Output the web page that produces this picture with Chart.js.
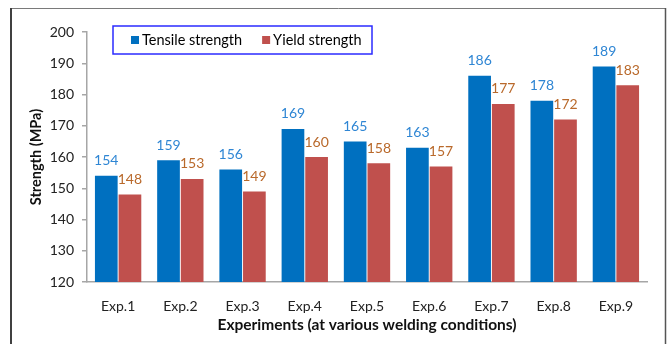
<!DOCTYPE html>
<html>
<head>
<meta charset="utf-8">
<title>Strength of welded joints</title>
<script src="https://cdn.jsdelivr.net/npm/chart.js@4.4.1/dist/chart.umd.min.js"></script>
<style>
    html, body { margin: 0; padding: 0; background: #ffffff; }
    #wrap { position: relative; width: 671px; height: 344px; }
</style>
</head>
<body>
<div id="wrap">
    <canvas id="myChart" width="671" height="344"></canvas>
</div>
<script>
const experiments = ['Exp.1', 'Exp.2', 'Exp.3', 'Exp.4', 'Exp.5', 'Exp.6', 'Exp.7', 'Exp.8', 'Exp.9'];
const tensileStrength = [154, 159, 156, 169, 165, 163, 186, 178, 189];
const yieldStrength = [148, 153, 149, 160, 158, 157, 177, 172, 183];
const yTicks = [120, 130, 140, 150, 160, 170, 180, 190, 200];

const fontName = 'Lato, "Open Sans", sans-serif';

// moldura em volta do grafico
const framePlugin = {
    id: 'frame',
    beforeDraw(chart) {
        const ctx = chart.ctx;
        ctx.save();
        ctx.strokeStyle = '#7a7a7a';
        ctx.lineWidth = 1;
        ctx.beginPath();
        ctx.moveTo(11, 8.5);
        ctx.lineTo(665.5, 8.5);
        ctx.stroke();
        ctx.strokeStyle = '#404040';
        ctx.lineWidth = 2;
        ctx.beginPath();
        ctx.moveTo(11, 8);
        ctx.lineTo(11, 344);
        ctx.stroke();
        ctx.strokeStyle = '#555555';
        ctx.lineWidth = 1.5;
        ctx.beginPath();
        ctx.moveTo(665.5, 8);
        ctx.lineTo(665.5, 344);
        ctx.stroke();
        ctx.restore();
    }
};

// legenda dentro da area do grafico, com caixa azul
const legendBoxPlugin = {
    id: 'legendBox',
    afterDraw(chart) {
        const ctx = chart.ctx;
        ctx.save();
        ctx.fillStyle = '#ffffff';
        ctx.fillRect(113, 26, 259, 28);
        ctx.strokeStyle = '#2b2bff';
        ctx.lineWidth = 1.5;
        ctx.strokeRect(113, 26, 259, 28);
        ctx.font = '14.5px ' + fontName;
        ctx.textBaseline = 'middle';
        let x = 131;
        chart.data.datasets.forEach(function(ds) {
            ctx.fillStyle = ds.backgroundColor;
            ctx.fillRect(x, 36, 8, 8);
            ctx.fillStyle = '#000000';
            ctx.fillText(ds.label, x + 11, 40.5);
            x += 11 + ctx.measureText(ds.label).width + 20;
        });
        ctx.restore();
    }
};

// valores acima das barras
const valueLabelPlugin = {
    id: 'valueLabels',
    afterDatasetsDraw(chart) {
        const ctx = chart.ctx;
        ctx.save();
        ctx.font = '14px ' + fontName;
        ctx.textAlign = 'center';
        ctx.textBaseline = 'middle';
        chart.data.datasets.forEach(function(ds, i) {
            const meta = chart.getDatasetMeta(i);
            ctx.fillStyle = ds.labelColor;
            meta.data.forEach(function(bar, j) {
                ctx.fillText(ds.data[j], bar.x, bar.y - 15);
            });
        });
        ctx.restore();
    }
};

const dataset = {
    labels: experiments,
    datasets: [
        {
            label: 'Tensile strength',
            data: tensileStrength,
            backgroundColor: '#0070c0',
            labelColor: '#2f86d4',
            categoryPercentage: 0.76,
            barPercentage: 0.96
        },
        {
            label: 'Yield strength',
            data: yieldStrength,
            backgroundColor: '#c0504d',
            labelColor: '#b9692b',
            categoryPercentage: 0.76,
            barPercentage: 0.96
        }
    ]
};

const config = {
    type: 'bar',
    data: dataset,
    options: {
        responsive: false,
        animation: false,
        layout: {
            padding: { left: 20, right: 24, top: 32, bottom: 6 }
        },
        plugins: {
            legend: { display: false },
            tooltip: { enabled: false }
        },
        scales: {
            x: {
                grid: { display: false },
                border: { display: true, color: '#a6a6a6', width: 1.5 },
                ticks: {
                    color: '#222222',
                    padding: 8,
                    font: { family: fontName, size: 14 }
                },
                title: {
                    display: true,
                    text: 'Experiments (at various welding conditions)',
                    color: '#111111',
                    padding: { top: 0, bottom: 4 },
                    font: { family: fontName, size: 15.5, weight: 'bold' }
                },
                afterFit: function(scale) { scale.height = 56; }
            },
            y: {
                min: 120,
                max: 200,
                afterBuildTicks: function(scale) {
                    scale.ticks = yTicks.map(function(v) { return { value: v }; });
                },
                grid: {
                    drawOnChartArea: false,
                    drawTicks: true,
                    tickLength: 5,
                    color: '#a6a6a6',
                    lineWidth: 1.5
                },
                border: { display: true, color: '#a6a6a6', width: 1.5 },
                ticks: {
                    color: '#222222',
                    padding: 8,
                    font: { family: fontName, size: 14 }
                },
                title: {
                    display: true,
                    text: 'Strength (MPa)',
                    color: '#111111',
                    padding: { top: 8, bottom: 0 },
                    font: { family: fontName, size: 14.5, weight: 'bold' }
                },
                afterFit: function(scale) { scale.width = 67; }
            }
        }
    },
    plugins: [framePlugin, valueLabelPlugin, legendBoxPlugin]
};

new Chart(document.getElementById('myChart').getContext('2d'), config);
</script>
</body>
</html>
